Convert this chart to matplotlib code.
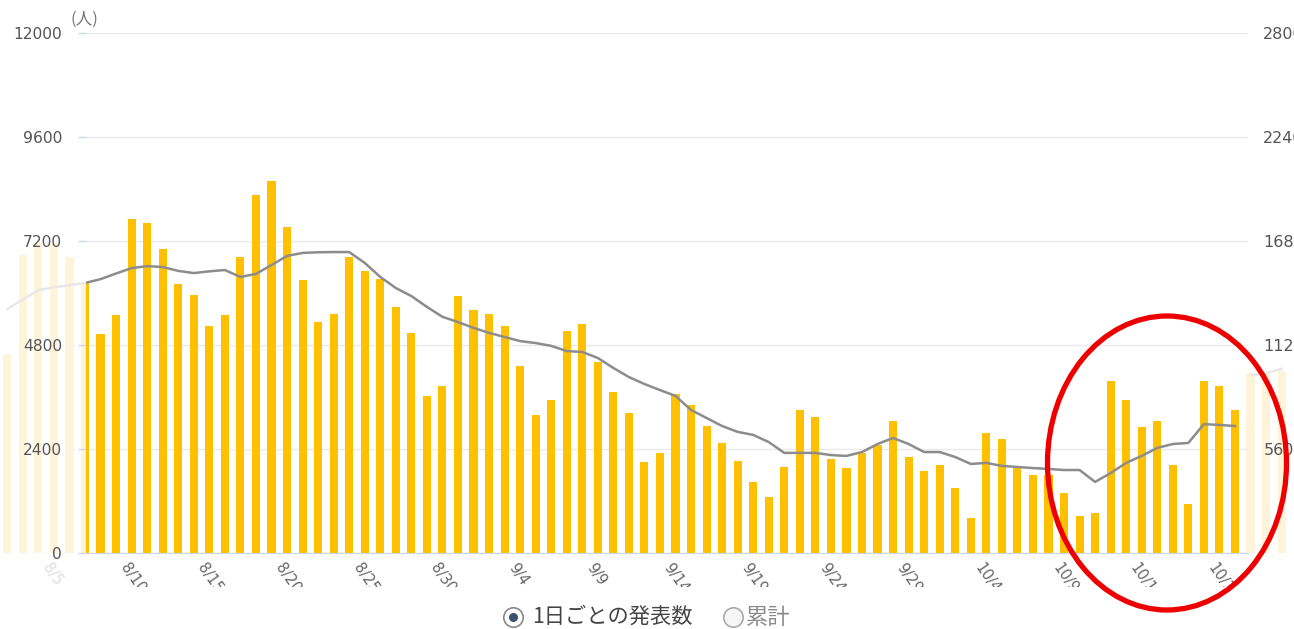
import matplotlib
matplotlib.use("Agg")
import matplotlib.pyplot as plt
import matplotlib.transforms as mtransforms
from matplotlib.patches import Ellipse, Rectangle
from matplotlib.lines import Line2D

W, H = 1294, 629

# daily reported cases, index 0 = 8/7 (first day shown in the window)
daily = [6230, 5050, 5490, 7710, 7615, 7015, 6210, 5955, 5240, 5490,
         6830, 8260, 8585, 7520, 6300, 5330, 5515, 6830, 6510, 6320,
         5680, 5080, 3625, 3855, 5930, 5610, 5515, 5240, 4315, 3185,
         3530, 5125, 5285, 4410, 3715, 3230, 2100, 2310, 3670, 3415,
         2930, 2540, 2125, 1640, 1290, 1985, 3300, 3140, 2170, 1960,
         2310, 2490, 3045, 2215, 1890, 2030, 1500, 810, 2770, 2630,
         2010, 1800, 1790, 1385, 855, 920, 3970, 3530, 2910, 3045,
         2030, 1130, 3970, 3855, 3300]
# 7-day average
avg7 = [6230, 6320, 6450, 6575, 6620, 6600, 6510, 6460, 6500, 6530,
        6370, 6440, 6645, 6855, 6925, 6940, 6945, 6945, 6695, 6370,
        6115, 5930, 5680, 5450, 5330, 5195, 5080, 4985, 4890, 4845,
        4780, 4660, 4640, 4500, 4270, 4060, 3900, 3760, 3625, 3300,
        3115, 2930, 2795, 2725, 2560, 2310, 2310, 2310, 2260, 2240,
        2330, 2515, 2655, 2515, 2330, 2330, 2215, 2055, 2080, 2010,
        1985, 1960, 1940, 1915, 1915, 1640, 1845, 2080, 2240, 2425,
        2515, 2540, 2975, 2955, 2930]

# days scrolled out of view (8/2-8/6 on the left, 10/21- on the right)
left_daily = [4590, 6880, 7150, 7150, 6830]
left_avg = [5630, 5850, 6070, 6130, 6180]
right_daily = [4150, 4180, 4200]
right_avg = [4100, 4150, 4250]

date_idx = [-2, 3, 8, 13, 18, 23, 28, 33, 38, 43, 48, 53, 58, 63, 68, 73]
date_lbl = ["8/5", "8/10", "8/15", "8/20", "8/25", "8/30", "9/4", "9/9",
            "9/14", "9/19", "9/24", "9/29", "10/4", "10/9", "10/14", "10/19"]

left_ticks = [0, 2400, 4800, 7200, 9600, 12000]
right_ticks = [5600, 11200, 16800, 22400, 28000]

BAR = "#ffc000"
BAR_FADE = "#fff4d9"
LINE = "#8c8c8c"
LINE_FADE = "#e8e8e8"

plt.rcParams["font.family"] = ["DejaVu Sans", "Noto Sans CJK JP"]

fig = plt.figure(figsize=(W / 100, H / 100), dpi=100)

# -------------------------------
# pixel layout of the screenshot
# -------------------------------
x0_px, step_px = 85, 15.54          # centre of bar 0, spacing
y0_px, ytop_px = 553, 33            # value 0 / 12000
win_l, win_r = 86, 1248             # visible plot window
b = (H - y0_px) / H
h = (y0_px - ytop_px) / H


def px2i(px):
    return (px - x0_px) / step_px


n = len(daily)
days = list(range(n))
left_x = list(range(-len(left_daily), 0))
right_x = list(range(n, n + len(right_daily)))

# full strip: the faded, scrolled-out part
ax_bg = fig.add_axes([0, b, 1, h])
ax_bg.set_xlim(px2i(0), px2i(W))
ax_bg.set_ylim(0, 12000)
ax_bg.axis("off")
ax_bg.bar(left_x + days + right_x, left_daily + daily + right_daily,
          width=0.52, color=BAR_FADE, zorder=1)
ax_bg.plot(left_x + [0], left_avg + [avg7[0]], color=LINE_FADE, lw=1.8, zorder=2)
ax_bg.plot(right_x, right_avg, color=LINE_FADE, lw=1.8, zorder=2)

# visible window
ax = fig.add_axes([win_l / W, b, (win_r - win_l) / W, h])
ax.patch.set_visible(False)
ax.set_xlim(px2i(win_l), px2i(win_r))
ax.set_ylim(0, 12000)
ax.bar(days, daily, width=0.52, color=BAR, zorder=2)
ax.plot(days, avg7, color=LINE, lw=1.8, zorder=3, solid_joinstyle="round")
ax.set_yticks(left_ticks)
ax.set_yticklabels([str(v) for v in left_ticks])
ax.grid(axis="y", color="#eaeaef", lw=1, zorder=0)
ax.set_axisbelow(True)
ax.tick_params(axis="y", length=5.8, width=1, color="#ccd6eb",
               labelsize=11.2, labelcolor="#555555", pad=11.5)
ax.set_xticks([])
for s in ["top", "right", "left"]:
    ax.spines[s].set_visible(False)
ax.spines["bottom"].set_color("#ccd6eb")
ax.spines["bottom"].set_zorder(4)

ax2 = ax.twinx()
ax2.set_ylim(0, 28000)
ax2.set_yticks(right_ticks)
ax2.set_yticklabels([str(v) for v in right_ticks])
ax2.tick_params(axis="y", length=0, labelsize=11.5, labelcolor="#555555", pad=11)
for s in ax2.spines.values():
    s.set_visible(False)

# unit label
fig.text(70 / W, 1 - 19 / H, "(人)", family=["Noto Sans CJK JP"], fontsize=12,
         color="#777777", ha="left", va="center")

# rotated date labels, cut off like in the screenshot
clip = Rectangle((0, (H - 587) / H), 1, 587 / H, transform=fig.transFigure)
tr = mtransforms.blended_transform_factory(ax_bg.transData, fig.transFigure)
for i, lbl in zip(date_idx, date_lbl):
    col = "#666666" if 0 <= i < n else "#dddddd"
    t = ax_bg.text(i - 0.55, 1 - 565 / H, lbl, transform=tr, rotation=-55,
                   rotation_mode="anchor", ha="left", va="center",
                   fontsize=10.5, color=col)
    t.set_clip_on(True)
    t.set_clip_path(clip)

# legend (radio buttons)
ly = 1 - 617 / H
fig.add_artist(Line2D([513 / W], [ly], marker="o", markersize=14, mfc="white",
                      mec="#8a8a8a", mew=1.2, transform=fig.transFigure))
fig.add_artist(Line2D([513 / W], [ly], marker="o", markersize=5.5, mfc="#3d5470",
                      mec="#3d5470", transform=fig.transFigure))
fig.text(532 / W, ly, "1日ごとの発表数", family=["Noto Sans CJK JP"], fontsize=15.3,
         color="#444444", ha="left", va="center")
fig.add_artist(Line2D([733 / W], [ly], marker="o", markersize=14, mfc="#f6f6f6",
                      mec="#aaaaaa", mew=1.2, transform=fig.transFigure))
fig.text(746 / W, ly, "累計", family=["Noto Sans CJK JP"], fontsize=16,
         color="#8a8a8a", ha="left", va="center")

# red highlight circle
fig.add_artist(Ellipse((1167 / W, 1 - 463 / H), 239 / W, 294 / H,
                       transform=fig.transFigure, fill=False, ec="#ee0000",
                       lw=3.8, zorder=10))

fig.savefig("out.png", dpi=100)
